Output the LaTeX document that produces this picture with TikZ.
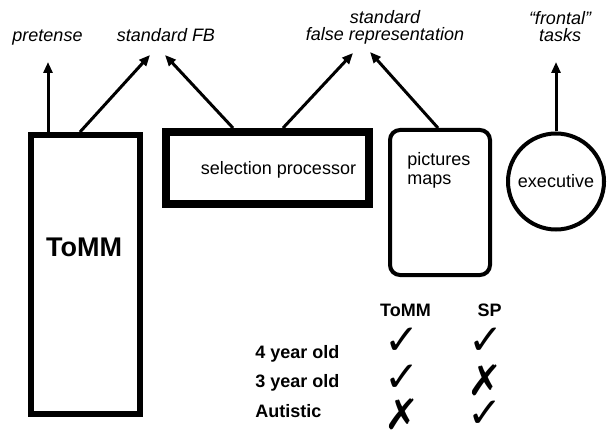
\documentclass[tikz,border=0pt]{standalone}
\usepackage{fontspec}
\setmainfont{Liberation Sans}
\newfontfamily\marksfont{DejaVu Sans}
\usetikzlibrary{arrows.meta,positioning,calc}

\begin{document}
\begin{tikzpicture}[x=1pt,y=-1pt,thick,>={Triangle[length=11pt,width=9pt]},
  lbl/.style={font=\fontsize{18}{17}\selectfont\itshape,inner sep=0pt,align=center},
  txt/.style={font=\fontsize{18}{19}\selectfont,inner sep=0pt,align=left},
  bold/.style={font=\fontsize{18}{18}\selectfont\bfseries,inner sep=0pt},
  arr/.style={->,line width=3pt},
  mk/.style={font=\fontsize{42}{42}\marksfont\selectfont,inner sep=0pt}]
\useasboundingbox (0,0) rectangle (609,430);
% modules
\node (tomm) [draw,line width=6pt,minimum width=109pt,minimum height=279pt] at (85.5,274.5) {};
\node (sp) [draw,line width=8pt,minimum width=203pt,minimum height=72pt] at (267.5,168) {};
\node (pic) [draw,line width=4pt,rounded corners=10pt,minimum width=100pt,minimum height=145pt] at (440,202.5) {};
\node (exec) [draw,circle,line width=4pt,minimum size=96pt,txt] at (556,181.5) {executive};
\node (tommtxt) [font=\fontsize{27}{27}\selectfont\bfseries,inner sep=0pt] at (84,247) {ToMM};
\node (sptxt) [txt,anchor=base] at (278.5,175) {selection processor};
\node (pictxt) [txt,anchor=base west] at (407,185) {pictures\\maps};
% tasks
\node (pret) [lbl,anchor=base] at (47.5,42) {pretense};
\node (fb) [lbl,anchor=base] at (166,42) {standard FB};
\node (sfr) [lbl,anchor=base] at (385,41) {standard\\false representation};
\node (front) [lbl,anchor=base] at (560,42) {``frontal''\\tasks};
\coordinate (pretip) at (48,62);
\coordinate (fbl) at (150,55);
\coordinate (fbr) at (165,55);
\coordinate (sfrl) at (353,53);
\coordinate (sfrr) at (370,52);
\coordinate (fronttip) at (556,62);
\draw[arr] ([xshift=-37.5pt]tomm.north) -- (pretip);
\draw[arr] ([xshift=-5.5pt]tomm.north) -- (fbl);
\draw[arr] ([xshift=-34.5pt]sp.north) -- (fbr);
\draw[arr] ([xshift=15.5pt]sp.north) -- (sfrl);
\draw[arr] ([xshift=-2pt]pic.north) -- (sfrr);
\draw[arr] (exec.north) -- (fronttip);
% table
\node (hdtomm) [bold,anchor=base] at (405.5,316) {ToMM};
\node (hdsp) [bold,anchor=base] at (489.5,316) {SP};
\node (four) [bold,anchor=base west] at (255,358) {4 year old};
\node (three) [bold,anchor=base west] at (255,387) {3 year old};
\node (aut) [bold,anchor=base west] at (255,417) {Autistic};
\node (m11) [mk] at (402,341.5) {✓};
\node (m12) [mk] at (486.5,341) {✓};
\node (m21) [mk] at (402,378.5) {✓};
\node (m22) [mk] at (485,380.5) {✗};
\node (m31) [mk] at (402,414) {✗};
\node (m32) [mk] at (485,414) {✓};
\end{tikzpicture}
\end{document}
